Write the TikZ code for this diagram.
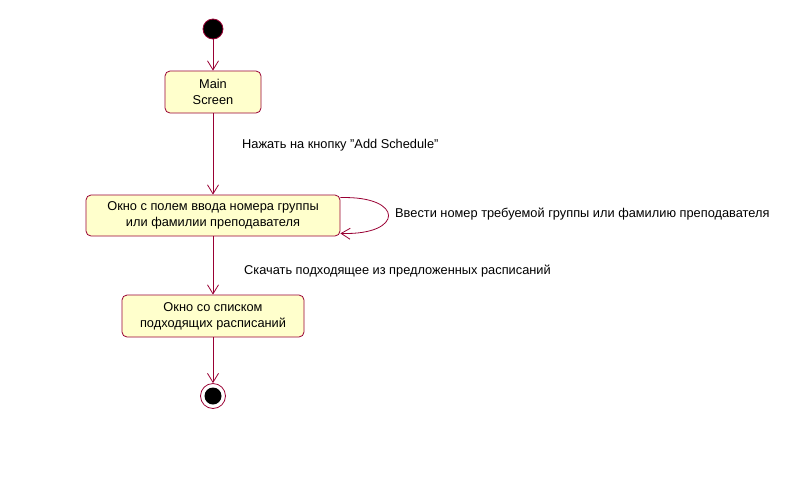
\documentclass[tikz,border=0pt]{standalone}
\usepackage{fontspec}
\setmainfont{Liberation Sans}
\usetikzlibrary{arrows.meta}
\definecolor{umlborder}{HTML}{990033}
\definecolor{umlfill}{HTML}{FFFFCC}
\tikzset{
  state/.style={draw=umlborder, fill=umlfill, rounded corners=5pt, line width=0.8pt,
    align=center, font=\fontsize{12.8}{16}\selectfont, inner sep=0pt},
  flow/.style={draw=umlborder, line width=0.8pt, -{Straight Barb[length=9pt,width=11pt,line width=0.8pt]}},
  lbl/.style={anchor=west, font=\fontsize{12.8}{16}\selectfont, inner sep=0pt},
}
\begin{document}
\begin{tikzpicture}[x=1pt,y=-1pt]
\useasboundingbox (0,0) rectangle (796,491);
\node[circle, fill=black, draw=umlborder, line width=0.8pt, minimum size=20pt, inner sep=0pt] (start) at (213,29) {};
\node[state, minimum width=96pt, minimum height=42pt] (main) at (213,92) {Main\\Screen};
\node[state, minimum width=254pt, minimum height=41pt] (win) at (213,215.5) {Окно с полем ввода номера группы\\или фамилии преподавателя};
\node[state, minimum width=182pt, minimum height=42pt] (list) at (213,316) {Окно со списком\\подходящих расписаний};
\node[circle, draw=umlborder, line width=0.8pt, minimum size=25pt, inner sep=0pt] (end) at (213,396) {};
\node[circle, fill=black, minimum size=17pt, inner sep=0pt] (endin) at (213,396) {};

\draw[flow] (start) -- (main);
\draw[flow] (main) -- (win);
\draw[flow] (win) -- (list);
\draw[flow] (list) -- (end);
\draw[flow] ([yshift=-3pt]win.north east) .. controls +(64,-2) and +(64,2) .. ([yshift=3pt]win.south east);

\node[lbl] (l1) at (242,145) {Нажать на кнопку "Add Schedule"};
\node[lbl] (l2) at (395,214) {Ввести номер требуемой группы или фамилию преподавателя};
\node[lbl] (l3) at (244,271) {Скачать подходящее из предложенных расписаний};
\end{tikzpicture}
\end{document}
